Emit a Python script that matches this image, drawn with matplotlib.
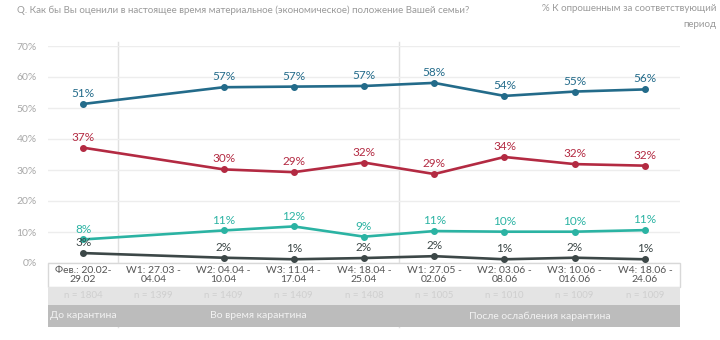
import numpy as np
import matplotlib.pyplot as plt
from matplotlib.patches import Rectangle
from matplotlib.transforms import blended_transform_factory

plt.rcParams['font.family'] = ['Lato', 'DejaVu Sans']

# данные
periods = ['Фев.: 20.02-\n29.02', 'W1: 27.03 -\n04.04', 'W2: 04.04 -\n10.04', 'W3: 11.04 -\n17.04',
           'W4: 18.04 -\n25.04', 'W1: 27.05 -\n02.06', 'W2: 03.06 -\n08.06', 'W3: 10.06 -\n016.06',
           'W4: 18.06 -\n24.06']
sample_n = ['n = 1804', 'n = 1399', 'n = 1409', 'n = 1409', 'n = 1408',
            'n = 1005', 'n = 1010', 'n = 1009', 'n = 1009']
phases = ['До карантина', 'Во время карантина', 'После ослабления карантина']
phase_span = [(0, 0), (1, 4), (5, 8)]

blue = [51.3, np.nan, 56.7, 56.9, 57.1, 58.1, 53.9, 55.3, 56.0]
red = [37.2, np.nan, 30.2, 29.3, 32.4, 28.7, 34.2, 31.9, 31.4]
teal = [7.6, np.nan, 10.5, 11.8, 8.5, 10.3, 10.1, 10.1, 10.6]
dark = [3.2, np.nan, 1.7, 1.2, 1.6, 2.2, 1.2, 1.7, 1.2]

blue_lbl = ['51%', '', '57%', '57%', '57%', '58%', '54%', '55%', '56%']
red_lbl = ['37%', '', '30%', '29%', '32%', '29%', '34%', '32%', '32%']
teal_lbl = ['8%', '', '11%', '12%', '9%', '11%', '10%', '10%', '11%']
dark_lbl = ['3%', '', '2%', '1%', '2%', '2%', '1%', '2%', '1%']

fig = plt.figure(figsize=(7.2, 3.4), dpi=100)
ax = fig.add_axes([48 / 720, 1 - 263 / 340, 632 / 720, 217 / 340])

x = np.arange(len(periods))
series = [(blue, blue_lbl, '#236b8a'), (red, red_lbl, '#b32a42'),
          (teal, teal_lbl, '#2bb3a3'), (dark, dark_lbl, '#3c4747')]
for vals, lbls, col in series:
    v = np.array(vals)
    m = ~np.isnan(v)
    ax.plot(x[m], v[m], color=col, lw=1.9, marker='o', ms=4, clip_on=False, zorder=3)
    for xi, yi, t in zip(x[m], v[m], np.array(lbls)[m]):
        ax.annotate(t, (xi, yi), xytext=(0, 7.5), textcoords='offset points',
                    ha='center', va='center', fontsize=8.5, color=col)

ax.set_xlim(-0.5, 8.5)
ax.set_ylim(0, 70)
ax.set_yticks(range(0, 71, 10))
ax.set_yticklabels(['%d%%' % t for t in range(0, 71, 10)], fontsize=7.5, color='#a8a8a8')
ax.set_xticks([])
ax.tick_params(axis='y', length=0, pad=8)
ax.grid(axis='y', color='#ededed', lw=1)
ax.set_axisbelow(True)
for s in ax.spines.values():
    s.set_visible(False)

# таблица под графиком
tr = blended_transform_factory(ax.transData, ax.transAxes)
h1, h2, h3 = 24 / 217, 18 / 217, 22 / 217
ax.add_patch(Rectangle((-0.5, -h1), 9, h1, transform=tr, clip_on=False,
                       facecolor='white', edgecolor='#d8d8d8', lw=1))
ax.add_patch(Rectangle((-0.5, -h1 - h2), 9, h2, transform=tr, clip_on=False,
                       facecolor='#e4e4e4', edgecolor='none'))
ax.add_patch(Rectangle((-0.5, -h1 - h2 - h3), 9, h3, transform=tr, clip_on=False,
                       facecolor='#bcbcbc', edgecolor='none'))
for i in x:
    ax.text(i, -h1 / 2, periods[i], transform=tr, ha='center', va='center',
            fontsize=7.5, color='#555555', linespacing=1.05)
    ax.text(i, -h1 - h2 / 2, sample_n[i], transform=tr, ha='center', va='center',
            fontsize=7, color='#cfcfcf')
for (a, b), name in zip(phase_span, phases):
    ax.text((a + b) / 2, -h1 - h2 - h3 / 2, name, transform=tr, ha='center', va='center',
            fontsize=7.5, color='#f2f2f2')

# разделители периодов
for sx in [0.5, 4.5]:
    ax.plot([sx, sx], [-h1 - h2 - h3, 1.02], transform=tr, color='#e0e0e0', lw=1,
            clip_on=False, zorder=0.5)

fig.text(17 / 720, 1 - 10 / 340,
         'Q. Как бы Вы оценили в настоящее время материальное (экономическое) положение Вашей семьи?',
         fontsize=7, color='#9a9a9a', va='center')
fig.text(717 / 720, 1 - 4 / 340, '% К опрошенным за соответствующий\nпериод',
         fontsize=7, color='#9a9a9a', va='top', ha='right', linespacing=2.0)

fig.savefig('out.png', dpi=100, facecolor='white')
